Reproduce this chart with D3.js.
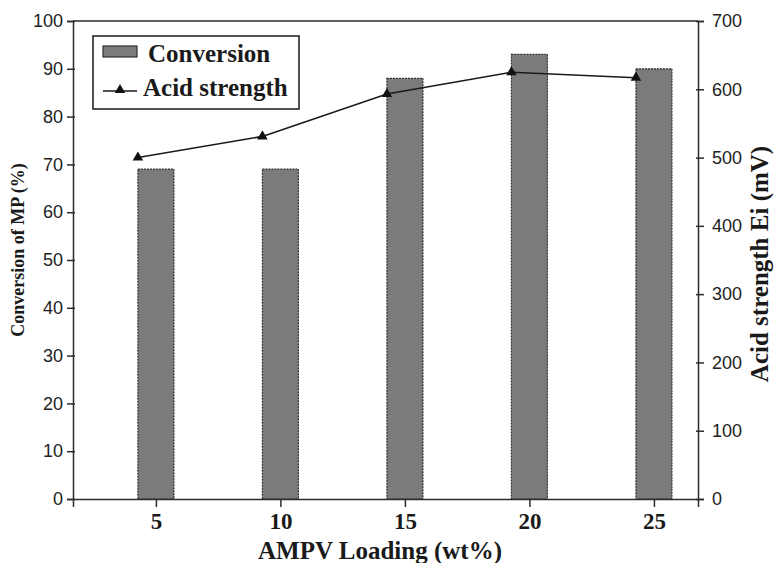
<!DOCTYPE html>
<html>
<head>
<meta charset="utf-8">
<script src="https://cdn.jsdelivr.net/npm/d3@7/dist/d3.min.js"></script>
<style>
  html, body { margin: 0; padding: 0; background: #fff; }
  svg { display: block; }
</style>
</head>
<body>
<svg id="chart" width="777" height="563"></svg>
<script>
// AMPV loading (wt%) on the x axis
const loadings = [5, 10, 15, 20, 25];
// Conversion of MP (%) — bars, left axis
const conversion = [69, 69, 88, 93, 90];
// Acid strength Ei (mV) — line, right axis
const acidStrength = [500, 531, 593, 625, 617];

const leftTicks = [0, 10, 20, 30, 40, 50, 60, 70, 80, 90, 100];
const rightTicks = [0, 100, 200, 300, 400, 500, 600, 700];
const xTicks = [5, 10, 15, 20, 25];

const svg = d3.select("#chart");

const plot = { left: 73, right: 698, top: 21, bottom: 499 };
const barWidth = 36;
const axisColor = "#2b2b2b";

const x = d3.scaleLinear().domain([1.67, 26.77]).range([plot.left, plot.right]);
const yL = d3.scaleLinear().domain([0, 100]).range([plot.bottom, plot.top]);
const yR = d3.scaleLinear().domain([0, 700]).range([plot.bottom, plot.top]);

// Bars
svg.append("g")
  .selectAll("rect")
  .data(loadings)
  .join("rect")
  .attr("x", (d) => x(d) - barWidth / 2)
  .attr("width", barWidth)
  .attr("y", (d, i) => yL(conversion[i]))
  .attr("height", (d, i) => yL(0) - yL(conversion[i]))
  .attr("fill", "#7b7b7b")
  .attr("stroke", "#2e2e2e")
  .attr("stroke-width", 1.2)
  .attr("stroke-dasharray", "2,1");

// Frame: top border
svg.append("line")
  .attr("x1", plot.left).attr("x2", plot.right)
  .attr("y1", plot.top).attr("y2", plot.top)
  .attr("stroke", axisColor).attr("stroke-width", 1.5);

// Left axis
const gL = svg.append("g")
  .attr("transform", `translate(${plot.left},0)`)
  .call(d3.axisLeft(yL).tickValues(leftTicks).tickSize(6).tickPadding(4).tickFormat(d3.format("d")));
gL.select(".domain").attr("stroke", axisColor).attr("stroke-width", 1.5);
gL.selectAll(".tick line").attr("x1", 2).attr("stroke", axisColor).attr("stroke-width", 1.5);
gL.selectAll(".tick text")
  .attr("font-family", "'Liberation Sans', Arial, sans-serif")
  .attr("font-size", 18).attr("fill", "#222");

// Right axis
const gR = svg.append("g")
  .attr("transform", `translate(${plot.right},0)`)
  .call(d3.axisRight(yR).tickValues(rightTicks).tickSize(6).tickPadding(8).tickFormat(d3.format("d")));
gR.select(".domain").attr("stroke", axisColor).attr("stroke-width", 1.5);
gR.selectAll(".tick line").attr("x1", -2).attr("stroke", axisColor).attr("stroke-width", 1.5);
gR.selectAll(".tick text")
  .attr("font-family", "'Liberation Sans', Arial, sans-serif")
  .attr("font-size", 18).attr("fill", "#222");

// Bottom axis
const gB = svg.append("g")
  .attr("transform", `translate(0,${plot.bottom})`)
  .call(d3.axisBottom(x).tickValues(xTicks).tickSize(8).tickPadding(6).tickFormat(d3.format("d")));
gB.select(".domain").attr("stroke", axisColor).attr("stroke-width", 1.5);
gB.selectAll(".tick line").attr("stroke", axisColor).attr("stroke-width", 1.5);
gB.selectAll(".tick text")
  .attr("font-family", "'Liberation Serif', 'Times New Roman', serif")
  .attr("font-weight", "bold")
  .attr("font-size", 23).attr("fill", "#1a1a1a");

// Acid strength line, markers sit at each bar's left edge
const linePts = loadings.map((d, i) => [x(d) - barWidth / 2, yR(acidStrength[i])]);
svg.append("path")
  .attr("d", d3.line()(linePts))
  .attr("fill", "none")
  .attr("stroke", "#1a1a1a")
  .attr("stroke-width", 1.6);

const tri = d3.symbol().type(d3.symbolTriangle).size(48);
svg.append("g")
  .selectAll("path")
  .data(linePts)
  .join("path")
  .attr("transform", (d) => `translate(${d[0]},${d[1]})`)
  .attr("d", tri)
  .attr("fill", "#111");

// Axis titles
svg.append("text")
  .attr("transform", "translate(24,250) rotate(-90)")
  .attr("text-anchor", "middle")
  .attr("font-family", "'Liberation Serif', 'Times New Roman', serif")
  .attr("font-weight", "bold")
  .attr("font-size", 18)
  .attr("fill", "#1a1a1a")
  .text("Conversion of MP (%)");

svg.append("text")
  .attr("transform", "translate(768,264) rotate(-90)")
  .attr("text-anchor", "middle")
  .attr("font-family", "'Liberation Serif', 'Times New Roman', serif")
  .attr("font-weight", "bold")
  .attr("font-size", 25)
  .attr("fill", "#1a1a1a")
  .text("Acid strength Ei (mV)");

svg.append("text")
  .attr("x", 380).attr("y", 559)
  .attr("text-anchor", "middle")
  .attr("font-family", "'Liberation Serif', 'Times New Roman', serif")
  .attr("font-weight", "bold")
  .attr("font-size", 25)
  .attr("fill", "#1a1a1a")
  .text("AMPV Loading (wt%)");

// Legend
const legend = svg.append("g");
legend.append("rect")
  .attr("x", 93).attr("y", 36).attr("width", 206).attr("height", 73)
  .attr("fill", "#fff").attr("stroke", "#1a1a1a").attr("stroke-width", 1.5);
legend.append("rect")
  .attr("x", 103).attr("y", 46).attr("width", 34).attr("height", 11)
  .attr("fill", "#7b7b7b").attr("stroke", "#2e2e2e").attr("stroke-width", 1.2);
legend.append("text")
  .attr("x", 148).attr("y", 62)
  .attr("font-family", "'Liberation Serif', 'Times New Roman', serif")
  .attr("font-weight", "bold").attr("font-size", 25).attr("fill", "#1a1a1a")
  .text("Conversion");
legend.append("line")
  .attr("x1", 103).attr("x2", 137).attr("y1", 91).attr("y2", 91)
  .attr("stroke", "#1a1a1a").attr("stroke-width", 1.6);
legend.append("path")
  .attr("transform", "translate(120,90)")
  .attr("d", tri).attr("fill", "#111");
legend.append("text")
  .attr("x", 143).attr("y", 96)
  .attr("font-family", "'Liberation Serif', 'Times New Roman', serif")
  .attr("font-weight", "bold").attr("font-size", 25).attr("fill", "#1a1a1a")
  .text("Acid strength");
</script>
</body>
</html>
